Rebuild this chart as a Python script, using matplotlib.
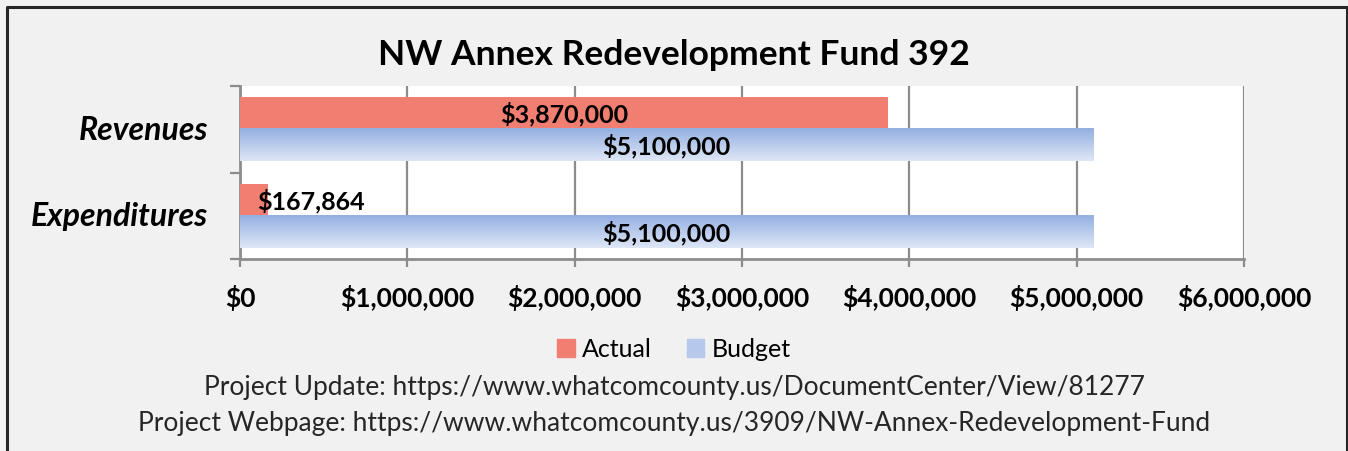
import numpy as np
import matplotlib.pyplot as plt
from matplotlib.patches import Rectangle
from matplotlib.colors import LinearSegmentedColormap

plt.rcParams['font.family'] = ['Lato', 'DejaVu Sans']

categories = ['Expenditures', 'Revenues']
actual = [167864, 3870000]
budget = [5100000, 5100000]
xticks = [0, 1000000, 2000000, 3000000, 4000000, 5000000, 6000000]
title = 'NW Annex Redevelopment Fund 392'
footer = ['Project Update: https://www.whatcomcounty.us/DocumentCenter/View/81277',
          'Project Webpage: https://www.whatcomcounty.us/3909/NW-Annex-Redevelopment-Fund']

bg = '#f1f1f1'
red = '#f17f71'
grid_c = '#8c8c8c'

fig = plt.figure(figsize=(13.48, 4.52), dpi=100, facecolor=bg)
ax = fig.add_axes([240 / 1348, 1 - 260 / 452, 1004 / 1348, 173 / 452])
ax.set_facecolor('white')

y = np.arange(len(categories))
h = 0.37
b_act = ax.barh(y + h / 2, actual, height=h, color=red, zorder=3)
b_bud = ax.barh(y - h / 2, budget, height=h, color='none', zorder=3)

# vertical gradient fill for the budget bars
grad = np.linspace(0, 1, 256).reshape(-1, 1)
cmap = LinearSegmentedColormap.from_list('bud', ['#93afe1', '#dfe7f6'])
for r in b_bud:
    x0, y0, w, hh = r.get_x(), r.get_y(), r.get_width(), r.get_height()
    ax.imshow(grad, aspect='auto', cmap=cmap, extent=(x0, x0 + w, y0, y0 + hh),
              origin='upper', zorder=3, interpolation='bicubic')

ax.set_xlim(0, 6000000)
ax.set_ylim(-0.5, 1.5)

lab_kw = dict(fontsize=18, fontweight='bold', color='black', zorder=5, va='center')
# value labels
ax.text(actual[1] / 2, y[1] + h / 2, f'${actual[1]:,}', ha='center', **lab_kw)
ax.text(100000, y[0] + h / 2, f'${actual[0]:,}', ha='left', **lab_kw)
for yi, v in zip(y, budget):
    ax.text(v / 2, yi - h / 2, f'${v:,}', ha='center', **lab_kw)

ax.set_xticks(xticks)
ax.set_xticklabels([f'${v:,}' for v in xticks], fontsize=19, fontweight='bold')
ax.xaxis.grid(True, color=grid_c, linewidth=1.6, zorder=1)
ax.tick_params(axis='x', length=6, width=1.6, color=grid_c, pad=12)

ax.set_yticks([-0.5, 0.5, 1.5])
ax.set_yticklabels([])
ax.tick_params(axis='y', length=7, width=1.6, color=grid_c)
for yi, c in zip(y, categories):
    ax.text(-0.032, yi, c, transform=ax.get_yaxis_transform(), ha='right', va='center',
            fontsize=23, fontweight='bold', fontstyle='italic')

for s in ['top', 'right']:
    ax.spines[s].set_visible(False)
for s in ['left', 'bottom']:
    ax.spines[s].set_color(grid_c)
    ax.spines[s].set_linewidth(2)

fig.text(0.5, 1 - 55 / 452, title, ha='center', va='center', fontsize=25.5, fontweight='bold')

# legend
leg_h = [Rectangle((0, 0), 1, 1, color=red), Rectangle((0, 0), 1, 1, color='#b6c9ec')]
fig.legend(leg_h, ['Actual', 'Budget'], loc='center', bbox_to_anchor=(0.5, 1 - 350 / 452),
           ncol=2, frameon=False, fontsize=18, handlelength=0.7, handleheight=0.7,
           handletextpad=0.3, columnspacing=1.4)

fig.text(0.5, 1 - 388 / 452, footer[0], ha='center', va='center', fontsize=19, color='#262626')
fig.text(0.5, 1 - 424 / 452, footer[1], ha='center', va='center', fontsize=19, color='#262626')

# outer frame (left, top, right edges)
fig.add_artist(plt.Line2D([6.5 / 1348, 6.5 / 1348, 1346.5 / 1348, 1346.5 / 1348],
                          [0, 1 - 7.5 / 452, 1 - 7.5 / 452, 0],
                          transform=fig.transFigure, color='#262626', linewidth=2.2))

fig.savefig('out.png', dpi=100, facecolor=bg)
